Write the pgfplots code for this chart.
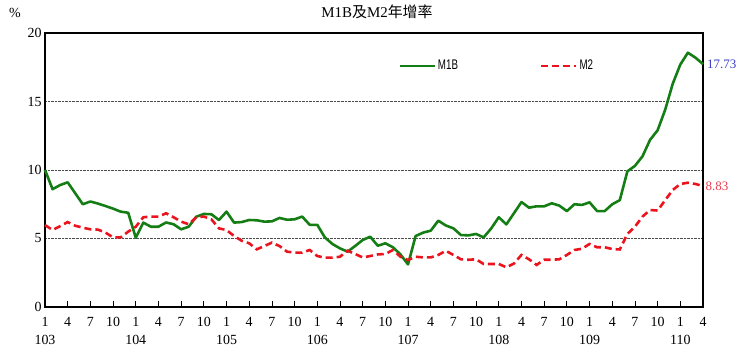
\documentclass[border=0pt]{standalone}
\usepackage{pgfplots}
\pgfplotsset{compat=1.18}
\usepackage{fontspec}
\setmainfont{Liberation Serif}
\newfontfamily\cjk{Noto Sans CJK TC}
\newfontfamily\narrowfont{Liberation Sans}[FakeStretch=0.7]
\definecolor{mgreen}{RGB}{20,125,20}
\definecolor{mred}{RGB}{235,20,30}
\definecolor{lblue}{RGB}{60,60,200}
\definecolor{lred}{RGB}{235,60,80}
\pgfplotstableread{
i m1b m2
0 10.0 5.98
1 8.6 5.62
2 8.9 5.9
3 9.1 6.2
4 8.3 5.93
5 7.5 5.79
6 7.7 5.67
7 7.55 5.65
8 7.37 5.43
9 7.18 5.08
10 6.96 5.08
11 6.88 5.5
12 5.06 5.86
13 6.16 6.55
14 5.86 6.6
15 5.86 6.6
16 6.17 6.84
17 6.04 6.55
18 5.67 6.23
19 5.86 6.04
20 6.59 6.55
21 6.79 6.6
22 6.77 6.4
23 6.35 5.74
24 6.96 5.62
25 6.16 5.18
26 6.2 4.84
27 6.35 4.65
28 6.33 4.21
29 6.23 4.45
30 6.25 4.7
31 6.5 4.45
32 6.37 4.04
33 6.4 3.97
34 6.6 3.97
35 6.0 4.16
36 6.0 3.72
37 5.08 3.6
38 4.6 3.6
39 4.28 3.67
40 4.04 4.11
41 4.45 3.87
42 4.89 3.62
43 5.13 3.72
44 4.47 3.84
45 4.65 3.87
46 4.36 4.16
47 3.84 3.67
48 3.11 3.43
49 5.18 3.67
50 5.43 3.62
51 5.57 3.62
52 6.3 3.8
53 5.95 4.1
54 5.74 3.8
55 5.25 3.48
56 5.23 3.45
57 5.33 3.48
58 5.08 3.14
59 5.74 3.14
60 6.55 3.14
61 6.03 2.9
62 6.84 3.17
63 7.66 3.8
64 7.25 3.48
65 7.35 3.07
66 7.35 3.45
67 7.57 3.45
68 7.4 3.48
69 7.0 3.8
70 7.5 4.16
71 7.45 4.25
72 7.64 4.6
73 7.0 4.36
74 7.0 4.36
75 7.5 4.23
76 7.8 4.2
77 9.9 5.33
78 10.3 5.86
79 11.0 6.6
80 12.2 7.08
81 12.9 7.04
82 14.4 7.8
83 16.3 8.54
84 17.7 8.98
85 18.56 9.07
86 18.2 8.98
87 17.73 8.83
}\datatable
\begin{document}
\begin{tikzpicture}
\useasboundingbox (-45bp,-53bp) rectangle (704bp,307bp);
\begin{axis}[
  at={(0,0)}, anchor=south west,
  scale only axis, width=658bp, height=274bp,
  xmin=0, xmax=87, ymin=0, ymax=20,
  axis line style={line width=1.6pt},
  ytick={0,5,10,15,20},
  ymajorgrids, grid style={densely dotted, black!70, line width=0.6pt},
  ytick style={draw=none},
  xtick={0,3,...,87},
  xticklabels={{1\\103},4,7,10,{1\\104},4,7,10,{1\\105},4,7,10,{1\\106},4,7,10,{1\\107},4,7,10,{1\\108},4,7,10,{1\\109},4,7,10,{1\\110},4},
  xticklabel style={align=center, font=\fontsize{14}{18}\selectfont, yshift=-7bp},
  yticklabel style={font=\fontsize{14}{16}\selectfont},
  xtick style={black, line width=0.8pt},
  major tick length=6bp,
  tick pos=bottom,
  xtick pos=bottom,
  tick align=inside,
  /pgf/number format/assume math mode=true,
  legend style={at={(axis cs:46.3,17.6)}, anchor=west, draw=none, fill=none,
    font=\narrowfont\fontsize{14}{15}\selectfont, legend columns=2,
    /tikz/every even column/.append style={column sep=80bp}},
  legend image code/.code={\draw[#1] (0bp,0bp) -- (35bp,0bp);},
  clip=false,
]
\addplot[mgreen, line width=2.6pt, line join=round] table[x=i, y=m1b] {\datatable};
\addlegendentry{M1B}
\addplot[mred, line width=2.6pt, dash pattern=on 7bp off 4bp] table[x=i, y=m2] {\datatable};
\addlegendentry{M2}
\node[anchor=west, text=lblue, font=\fontsize{13}{15}\selectfont, inner sep=1bp] at (axis cs:87.4,17.73) {17.73};
\node[anchor=west, text=lred, font=\fontsize{13}{15}\selectfont, inner sep=1bp] at (axis cs:87.2,8.83) {8.83};
\end{axis}
\node[font=\fontsize{14}{16}\selectfont] at (-30bp,294bp) {\%};
\node[font=\fontsize{15}{17}\selectfont] at (332bp,295bp) {M1B{\cjk 及}M2{\cjk 年增率}};
\end{tikzpicture}
\end{document}
